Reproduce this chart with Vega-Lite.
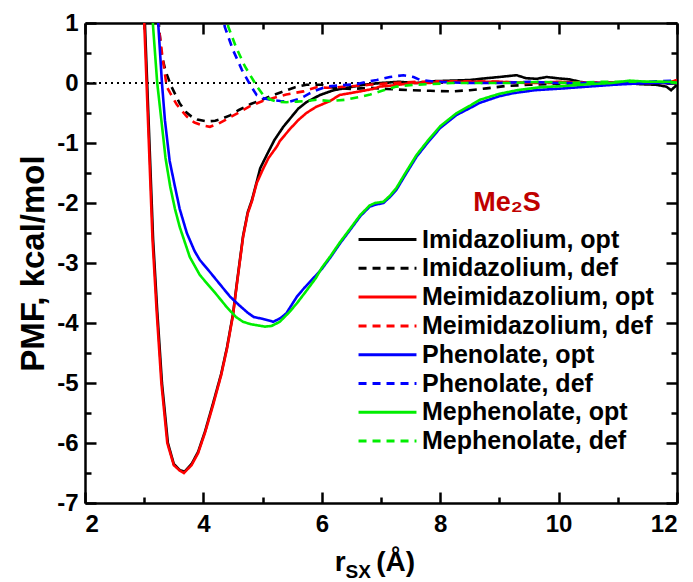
{
"$schema": "https://vega.github.io/schema/vega-lite/v6.json",
"width": 592, "height": 480,
"autosize": "none",
"padding": {"left": 85, "top": 23, "right": 16, "bottom": 79},
"config": {"font": "Liberation Sans", "view": {"stroke": null},
  "axis": {"domainColor": "black", "domainWidth": 2.5, "tickColor": "black", "tickWidth": 2.5, "grid": false,
    "labelFont": "Liberation Sans", "labelFontSize": 24, "labelFontWeight": "bold", "labelColor": "black",
    "titleFont": "Liberation Sans", "titleFontSize": 33, "titleFontWeight": "bold", "titleColor": "black"}},
"datasets": {"curves": [
{"s":"Imidazolium, opt","x":3.0,"y":1.3},{"s":"Imidazolium, opt","x":3.05,"y":0},{"s":"Imidazolium, opt","x":3.1,"y":-1.3},{"s":"Imidazolium, opt","x":3.15,"y":-2.6},{"s":"Imidazolium, opt","x":3.22,"y":-3.8},{"s":"Imidazolium, opt","x":3.3,"y":-5.0},{"s":"Imidazolium, opt","x":3.4,"y":-6.0},{"s":"Imidazolium, opt","x":3.5,"y":-6.35},{"s":"Imidazolium, opt","x":3.6,"y":-6.45},{"s":"Imidazolium, opt","x":3.68,"y":-6.48},{"s":"Imidazolium, opt","x":3.8,"y":-6.35},{"s":"Imidazolium, opt","x":3.91,"y":-6.15},{"s":"Imidazolium, opt","x":4.03,"y":-5.8},{"s":"Imidazolium, opt","x":4.16,"y":-5.35},{"s":"Imidazolium, opt","x":4.3,"y":-4.85},{"s":"Imidazolium, opt","x":4.4,"y":-4.4},{"s":"Imidazolium, opt","x":4.5,"y":-3.85},{"s":"Imidazolium, opt","x":4.57,"y":-3.3},{"s":"Imidazolium, opt","x":4.67,"y":-2.55},{"s":"Imidazolium, opt","x":4.75,"y":-2.15},{"s":"Imidazolium, opt","x":4.82,"y":-1.95},{"s":"Imidazolium, opt","x":4.9,"y":-1.65},{"s":"Imidazolium, opt","x":4.96,"y":-1.42},{"s":"Imidazolium, opt","x":5.07,"y":-1.2},{"s":"Imidazolium, opt","x":5.2,"y":-0.95},{"s":"Imidazolium, opt","x":5.35,"y":-0.73},{"s":"Imidazolium, opt","x":5.5,"y":-0.55},{"s":"Imidazolium, opt","x":5.6,"y":-0.43},{"s":"Imidazolium, opt","x":5.74,"y":-0.32},{"s":"Imidazolium, opt","x":5.97,"y":-0.2},{"s":"Imidazolium, opt","x":6.2,"y":-0.12},{"s":"Imidazolium, opt","x":6.42,"y":-0.08},{"s":"Imidazolium, opt","x":6.7,"y":-0.03},{"s":"Imidazolium, opt","x":7.0,"y":0.0},{"s":"Imidazolium, opt","x":7.3,"y":0.02},{"s":"Imidazolium, opt","x":7.6,"y":0.0},{"s":"Imidazolium, opt","x":7.9,"y":0.03},{"s":"Imidazolium, opt","x":8.2,"y":0.04},{"s":"Imidazolium, opt","x":8.5,"y":0.05},{"s":"Imidazolium, opt","x":8.78,"y":0.08},{"s":"Imidazolium, opt","x":9.0,"y":0.1},{"s":"Imidazolium, opt","x":9.29,"y":0.13},{"s":"Imidazolium, opt","x":9.45,"y":0.08},{"s":"Imidazolium, opt","x":9.63,"y":0.07},{"s":"Imidazolium, opt","x":9.8,"y":0.1},{"s":"Imidazolium, opt","x":9.97,"y":0.08},{"s":"Imidazolium, opt","x":10.19,"y":0.06},{"s":"Imidazolium, opt","x":10.36,"y":0.02},{"s":"Imidazolium, opt","x":10.53,"y":-0.01},{"s":"Imidazolium, opt","x":10.8,"y":0.0},{"s":"Imidazolium, opt","x":11.1,"y":0.0},{"s":"Imidazolium, opt","x":11.4,"y":-0.02},{"s":"Imidazolium, opt","x":11.65,"y":-0.03},{"s":"Imidazolium, opt","x":11.82,"y":-0.06},{"s":"Imidazolium, opt","x":11.9,"y":-0.12},{"s":"Imidazolium, opt","x":12.0,"y":-0.03},
{"s":"Imidazolium, def","x":3.22,"y":1.3},{"s":"Imidazolium, def","x":3.29,"y":0.49},{"s":"Imidazolium, def","x":3.36,"y":0.2},{"s":"Imidazolium, def","x":3.46,"y":-0.06},{"s":"Imidazolium, def","x":3.6,"y":-0.34},{"s":"Imidazolium, def","x":3.7,"y":-0.48},{"s":"Imidazolium, def","x":3.8,"y":-0.56},{"s":"Imidazolium, def","x":3.9,"y":-0.61},{"s":"Imidazolium, def","x":4.06,"y":-0.64},{"s":"Imidazolium, def","x":4.2,"y":-0.63},{"s":"Imidazolium, def","x":4.3,"y":-0.6},{"s":"Imidazolium, def","x":4.45,"y":-0.54},{"s":"Imidazolium, def","x":4.6,"y":-0.45},{"s":"Imidazolium, def","x":4.8,"y":-0.35},{"s":"Imidazolium, def","x":5.01,"y":-0.27},{"s":"Imidazolium, def","x":5.18,"y":-0.2},{"s":"Imidazolium, def","x":5.35,"y":-0.14},{"s":"Imidazolium, def","x":5.55,"y":-0.07},{"s":"Imidazolium, def","x":5.74,"y":-0.03},{"s":"Imidazolium, def","x":6.0,"y":-0.03},{"s":"Imidazolium, def","x":6.2,"y":-0.08},{"s":"Imidazolium, def","x":6.5,"y":-0.1},{"s":"Imidazolium, def","x":6.8,"y":-0.08},{"s":"Imidazolium, def","x":7.1,"y":-0.1},{"s":"Imidazolium, def","x":7.5,"y":-0.12},{"s":"Imidazolium, def","x":7.83,"y":-0.13},{"s":"Imidazolium, def","x":8.2,"y":-0.14},{"s":"Imidazolium, def","x":8.5,"y":-0.12},{"s":"Imidazolium, def","x":8.78,"y":-0.09},{"s":"Imidazolium, def","x":9.1,"y":-0.05},{"s":"Imidazolium, def","x":9.5,"y":-0.03},{"s":"Imidazolium, def","x":10.0,"y":-0.01},{"s":"Imidazolium, def","x":10.5,"y":0.0},{"s":"Imidazolium, def","x":11.0,"y":0.0},{"s":"Imidazolium, def","x":11.5,"y":0.0},{"s":"Imidazolium, def","x":12.0,"y":0.0},
{"s":"Meimidazolium, opt","x":2.99,"y":1.3},{"s":"Meimidazolium, opt","x":3.04,"y":0},{"s":"Meimidazolium, opt","x":3.09,"y":-1.3},{"s":"Meimidazolium, opt","x":3.14,"y":-2.6},{"s":"Meimidazolium, opt","x":3.21,"y":-3.8},{"s":"Meimidazolium, opt","x":3.29,"y":-5.0},{"s":"Meimidazolium, opt","x":3.39,"y":-6.0},{"s":"Meimidazolium, opt","x":3.5,"y":-6.37},{"s":"Meimidazolium, opt","x":3.6,"y":-6.46},{"s":"Meimidazolium, opt","x":3.67,"y":-6.5},{"s":"Meimidazolium, opt","x":3.8,"y":-6.37},{"s":"Meimidazolium, opt","x":3.91,"y":-6.17},{"s":"Meimidazolium, opt","x":4.03,"y":-5.82},{"s":"Meimidazolium, opt","x":4.16,"y":-5.38},{"s":"Meimidazolium, opt","x":4.3,"y":-4.87},{"s":"Meimidazolium, opt","x":4.4,"y":-4.42},{"s":"Meimidazolium, opt","x":4.5,"y":-3.87},{"s":"Meimidazolium, opt","x":4.57,"y":-3.32},{"s":"Meimidazolium, opt","x":4.67,"y":-2.57},{"s":"Meimidazolium, opt","x":4.75,"y":-2.17},{"s":"Meimidazolium, opt","x":4.82,"y":-1.97},{"s":"Meimidazolium, opt","x":4.9,"y":-1.67},{"s":"Meimidazolium, opt","x":5.0,"y":-1.45},{"s":"Meimidazolium, opt","x":5.1,"y":-1.25},{"s":"Meimidazolium, opt","x":5.24,"y":-1.06},{"s":"Meimidazolium, opt","x":5.29,"y":-0.97},{"s":"Meimidazolium, opt","x":5.45,"y":-0.78},{"s":"Meimidazolium, opt","x":5.6,"y":-0.62},{"s":"Meimidazolium, opt","x":5.74,"y":-0.5},{"s":"Meimidazolium, opt","x":5.9,"y":-0.4},{"s":"Meimidazolium, opt","x":6.14,"y":-0.3},{"s":"Meimidazolium, opt","x":6.3,"y":-0.2},{"s":"Meimidazolium, opt","x":6.53,"y":-0.16},{"s":"Meimidazolium, opt","x":6.7,"y":-0.13},{"s":"Meimidazolium, opt","x":6.86,"y":-0.1},{"s":"Meimidazolium, opt","x":6.98,"y":-0.06},{"s":"Meimidazolium, opt","x":7.2,"y":-0.04},{"s":"Meimidazolium, opt","x":7.54,"y":0.0},{"s":"Meimidazolium, opt","x":7.8,"y":0.0},{"s":"Meimidazolium, opt","x":8.1,"y":0.02},{"s":"Meimidazolium, opt","x":8.5,"y":0.02},{"s":"Meimidazolium, opt","x":9.0,"y":0.02},{"s":"Meimidazolium, opt","x":9.5,"y":0.0},{"s":"Meimidazolium, opt","x":10.0,"y":0.02},{"s":"Meimidazolium, opt","x":10.5,"y":0.0},{"s":"Meimidazolium, opt","x":11.0,"y":0.01},{"s":"Meimidazolium, opt","x":11.5,"y":0.0},{"s":"Meimidazolium, opt","x":11.9,"y":0.02},{"s":"Meimidazolium, opt","x":12.0,"y":0.05},
{"s":"Meimidazolium, def","x":3.2,"y":1.3},{"s":"Meimidazolium, def","x":3.25,"y":0.9},{"s":"Meimidazolium, def","x":3.3,"y":0.5},{"s":"Meimidazolium, def","x":3.38,"y":-0.06},{"s":"Meimidazolium, def","x":3.44,"y":-0.17},{"s":"Meimidazolium, def","x":3.55,"y":-0.36},{"s":"Meimidazolium, def","x":3.72,"y":-0.56},{"s":"Meimidazolium, def","x":3.85,"y":-0.66},{"s":"Meimidazolium, def","x":4.0,"y":-0.71},{"s":"Meimidazolium, def","x":4.11,"y":-0.73},{"s":"Meimidazolium, def","x":4.25,"y":-0.68},{"s":"Meimidazolium, def","x":4.4,"y":-0.6},{"s":"Meimidazolium, def","x":4.62,"y":-0.48},{"s":"Meimidazolium, def","x":4.8,"y":-0.38},{"s":"Meimidazolium, def","x":5.0,"y":-0.3},{"s":"Meimidazolium, def","x":5.18,"y":-0.25},{"s":"Meimidazolium, def","x":5.4,"y":-0.19},{"s":"Meimidazolium, def","x":5.69,"y":-0.14},{"s":"Meimidazolium, def","x":5.91,"y":-0.07},{"s":"Meimidazolium, def","x":6.1,"y":-0.08},{"s":"Meimidazolium, def","x":6.42,"y":-0.06},{"s":"Meimidazolium, def","x":6.8,"y":-0.03},{"s":"Meimidazolium, def","x":7.2,"y":0.0},{"s":"Meimidazolium, def","x":7.6,"y":0.02},{"s":"Meimidazolium, def","x":8.1,"y":0.03},{"s":"Meimidazolium, def","x":8.5,"y":0.03},{"s":"Meimidazolium, def","x":9.0,"y":0.02},{"s":"Meimidazolium, def","x":9.5,"y":0.0},{"s":"Meimidazolium, def","x":10.0,"y":0.0},{"s":"Meimidazolium, def","x":10.5,"y":0.01},{"s":"Meimidazolium, def","x":11.0,"y":0.0},{"s":"Meimidazolium, def","x":11.5,"y":0.0},{"s":"Meimidazolium, def","x":12.0,"y":0.0},
{"s":"Phenolate, opt","x":3.2,"y":1.5},{"s":"Phenolate, opt","x":3.24,"y":0.94},{"s":"Phenolate, opt","x":3.3,"y":0.0},{"s":"Phenolate, opt","x":3.35,"y":-0.62},{"s":"Phenolate, opt","x":3.43,"y":-1.3},{"s":"Phenolate, opt","x":3.52,"y":-1.73},{"s":"Phenolate, opt","x":3.6,"y":-2.1},{"s":"Phenolate, opt","x":3.72,"y":-2.5},{"s":"Phenolate, opt","x":3.85,"y":-2.8},{"s":"Phenolate, opt","x":3.94,"y":-2.95},{"s":"Phenolate, opt","x":4.11,"y":-3.15},{"s":"Phenolate, opt","x":4.3,"y":-3.38},{"s":"Phenolate, opt","x":4.45,"y":-3.56},{"s":"Phenolate, opt","x":4.6,"y":-3.7},{"s":"Phenolate, opt","x":4.75,"y":-3.83},{"s":"Phenolate, opt","x":4.85,"y":-3.9},{"s":"Phenolate, opt","x":5.0,"y":-3.93},{"s":"Phenolate, opt","x":5.18,"y":-3.98},{"s":"Phenolate, opt","x":5.3,"y":-3.92},{"s":"Phenolate, opt","x":5.4,"y":-3.84},{"s":"Phenolate, opt","x":5.58,"y":-3.56},{"s":"Phenolate, opt","x":5.7,"y":-3.42},{"s":"Phenolate, opt","x":5.86,"y":-3.25},{"s":"Phenolate, opt","x":6.0,"y":-3.1},{"s":"Phenolate, opt","x":6.15,"y":-2.9},{"s":"Phenolate, opt","x":6.31,"y":-2.67},{"s":"Phenolate, opt","x":6.5,"y":-2.42},{"s":"Phenolate, opt","x":6.65,"y":-2.22},{"s":"Phenolate, opt","x":6.81,"y":-2.06},{"s":"Phenolate, opt","x":6.9,"y":-2.03},{"s":"Phenolate, opt","x":7.04,"y":-2.0},{"s":"Phenolate, opt","x":7.15,"y":-1.9},{"s":"Phenolate, opt","x":7.26,"y":-1.78},{"s":"Phenolate, opt","x":7.4,"y":-1.55},{"s":"Phenolate, opt","x":7.6,"y":-1.23},{"s":"Phenolate, opt","x":7.8,"y":-0.98},{"s":"Phenolate, opt","x":8.0,"y":-0.75},{"s":"Phenolate, opt","x":8.28,"y":-0.53},{"s":"Phenolate, opt","x":8.5,"y":-0.42},{"s":"Phenolate, opt","x":8.67,"y":-0.33},{"s":"Phenolate, opt","x":9.0,"y":-0.22},{"s":"Phenolate, opt","x":9.23,"y":-0.17},{"s":"Phenolate, opt","x":9.6,"y":-0.12},{"s":"Phenolate, opt","x":10.08,"y":-0.09},{"s":"Phenolate, opt","x":10.5,"y":-0.06},{"s":"Phenolate, opt","x":10.92,"y":-0.03},{"s":"Phenolate, opt","x":11.3,"y":-0.01},{"s":"Phenolate, opt","x":11.6,"y":0.0},{"s":"Phenolate, opt","x":12.0,"y":0.0},
{"s":"Phenolate, def","x":4.33,"y":1.2},{"s":"Phenolate, def","x":4.36,"y":0.94},{"s":"Phenolate, def","x":4.5,"y":0.55},{"s":"Phenolate, def","x":4.65,"y":0.22},{"s":"Phenolate, def","x":4.79,"y":-0.03},{"s":"Phenolate, def","x":4.9,"y":-0.2},{"s":"Phenolate, def","x":5.0,"y":-0.25},{"s":"Phenolate, def","x":5.13,"y":-0.28},{"s":"Phenolate, def","x":5.3,"y":-0.3},{"s":"Phenolate, def","x":5.46,"y":-0.31},{"s":"Phenolate, def","x":5.6,"y":-0.27},{"s":"Phenolate, def","x":5.69,"y":-0.23},{"s":"Phenolate, def","x":5.8,"y":-0.17},{"s":"Phenolate, def","x":5.91,"y":-0.12},{"s":"Phenolate, def","x":6.08,"y":-0.06},{"s":"Phenolate, def","x":6.3,"y":-0.04},{"s":"Phenolate, def","x":6.59,"y":-0.02},{"s":"Phenolate, def","x":6.75,"y":0.02},{"s":"Phenolate, def","x":6.93,"y":0.05},{"s":"Phenolate, def","x":7.15,"y":0.1},{"s":"Phenolate, def","x":7.38,"y":0.13},{"s":"Phenolate, def","x":7.55,"y":0.1},{"s":"Phenolate, def","x":7.66,"y":0.05},{"s":"Phenolate, def","x":7.94,"y":0.02},{"s":"Phenolate, def","x":8.45,"y":0.0},{"s":"Phenolate, def","x":9.0,"y":0.0},{"s":"Phenolate, def","x":9.5,"y":0.02},{"s":"Phenolate, def","x":10.0,"y":0.0},{"s":"Phenolate, def","x":10.5,"y":0.0},{"s":"Phenolate, def","x":11.0,"y":0.0},{"s":"Phenolate, def","x":11.5,"y":0.02},{"s":"Phenolate, def","x":12.0,"y":0.04},
{"s":"Mephenolate, opt","x":3.12,"y":1.5},{"s":"Mephenolate, opt","x":3.15,"y":0.94},{"s":"Mephenolate, opt","x":3.22,"y":0.0},{"s":"Mephenolate, opt","x":3.29,"y":-0.62},{"s":"Mephenolate, opt","x":3.36,"y":-1.25},{"s":"Mephenolate, opt","x":3.44,"y":-1.73},{"s":"Mephenolate, opt","x":3.52,"y":-2.1},{"s":"Mephenolate, opt","x":3.6,"y":-2.4},{"s":"Mephenolate, opt","x":3.77,"y":-2.9},{"s":"Mephenolate, opt","x":3.94,"y":-3.2},{"s":"Mephenolate, opt","x":4.06,"y":-3.34},{"s":"Mephenolate, opt","x":4.2,"y":-3.5},{"s":"Mephenolate, opt","x":4.39,"y":-3.73},{"s":"Mephenolate, opt","x":4.55,"y":-3.9},{"s":"Mephenolate, opt","x":4.67,"y":-3.98},{"s":"Mephenolate, opt","x":4.8,"y":-4.02},{"s":"Mephenolate, opt","x":5.04,"y":-4.06},{"s":"Mephenolate, opt","x":5.15,"y":-4.05},{"s":"Mephenolate, opt","x":5.29,"y":-3.98},{"s":"Mephenolate, opt","x":5.45,"y":-3.82},{"s":"Mephenolate, opt","x":5.58,"y":-3.67},{"s":"Mephenolate, opt","x":5.75,"y":-3.45},{"s":"Mephenolate, opt","x":5.9,"y":-3.25},{"s":"Mephenolate, opt","x":6.0,"y":-3.08},{"s":"Mephenolate, opt","x":6.15,"y":-2.88},{"s":"Mephenolate, opt","x":6.31,"y":-2.65},{"s":"Mephenolate, opt","x":6.5,"y":-2.4},{"s":"Mephenolate, opt","x":6.65,"y":-2.2},{"s":"Mephenolate, opt","x":6.81,"y":-2.04},{"s":"Mephenolate, opt","x":6.9,"y":-2.0},{"s":"Mephenolate, opt","x":7.04,"y":-1.98},{"s":"Mephenolate, opt","x":7.15,"y":-1.88},{"s":"Mephenolate, opt","x":7.26,"y":-1.75},{"s":"Mephenolate, opt","x":7.4,"y":-1.52},{"s":"Mephenolate, opt","x":7.6,"y":-1.2},{"s":"Mephenolate, opt","x":7.8,"y":-0.95},{"s":"Mephenolate, opt","x":8.0,"y":-0.72},{"s":"Mephenolate, opt","x":8.28,"y":-0.5},{"s":"Mephenolate, opt","x":8.5,"y":-0.38},{"s":"Mephenolate, opt","x":8.67,"y":-0.28},{"s":"Mephenolate, opt","x":9.0,"y":-0.18},{"s":"Mephenolate, opt","x":9.3,"y":-0.12},{"s":"Mephenolate, opt","x":9.7,"y":-0.07},{"s":"Mephenolate, opt","x":10.1,"y":-0.05},{"s":"Mephenolate, opt","x":10.5,"y":-0.02},{"s":"Mephenolate, opt","x":10.9,"y":0.0},{"s":"Mephenolate, opt","x":11.2,"y":0.04},{"s":"Mephenolate, opt","x":11.5,"y":0.02},{"s":"Mephenolate, opt","x":11.9,"y":0.02},{"s":"Mephenolate, opt","x":12.0,"y":0.0},
{"s":"Mephenolate, def","x":4.38,"y":1.2},{"s":"Mephenolate, def","x":4.42,"y":0.94},{"s":"Mephenolate, def","x":4.55,"y":0.6},{"s":"Mephenolate, def","x":4.7,"y":0.28},{"s":"Mephenolate, def","x":4.84,"y":0.05},{"s":"Mephenolate, def","x":4.92,"y":-0.08},{"s":"Mephenolate, def","x":5.01,"y":-0.2},{"s":"Mephenolate, def","x":5.12,"y":-0.27},{"s":"Mephenolate, def","x":5.24,"y":-0.31},{"s":"Mephenolate, def","x":5.4,"y":-0.32},{"s":"Mephenolate, def","x":5.58,"y":-0.31},{"s":"Mephenolate, def","x":5.75,"y":-0.3},{"s":"Mephenolate, def","x":5.91,"y":-0.28},{"s":"Mephenolate, def","x":6.14,"y":-0.3},{"s":"Mephenolate, def","x":6.4,"y":-0.28},{"s":"Mephenolate, def","x":6.65,"y":-0.23},{"s":"Mephenolate, def","x":6.82,"y":-0.19},{"s":"Mephenolate, def","x":6.98,"y":-0.14},{"s":"Mephenolate, def","x":7.12,"y":-0.1},{"s":"Mephenolate, def","x":7.26,"y":-0.06},{"s":"Mephenolate, def","x":7.54,"y":-0.03},{"s":"Mephenolate, def","x":7.8,"y":-0.02},{"s":"Mephenolate, def","x":8.2,"y":0.0},{"s":"Mephenolate, def","x":8.7,"y":0.0},{"s":"Mephenolate, def","x":9.2,"y":0.0},{"s":"Mephenolate, def","x":9.7,"y":0.02},{"s":"Mephenolate, def","x":10.2,"y":0.0},{"s":"Mephenolate, def","x":10.7,"y":0.02},{"s":"Mephenolate, def","x":11.2,"y":0.02},{"s":"Mephenolate, def","x":11.7,"y":0.02},{"s":"Mephenolate, def","x":12.0,"y":0.0}
]},
"resolve": {"axis": {"x": "independent", "y": "independent"}},
"layer": [
 {"data": {"values": [{}]},
  "mark": {"type": "rule", "strokeDash": [2, 4], "strokeWidth": 2.2, "color": "black"},
  "encoding": {"y": {"datum": 0, "type": "quantitative", "scale": {"domain": [-7, 1], "nice": false, "zero": false},
     "axis": {"orient": "right", "labels": false, "title": null, "values": [-7,-6.5,-6,-5.5,-5,-4.5,-4,-3.5,-3,-2.5,-2,-1.5,-1,-0.5,0,0.5,1],
       "tickSize": {"condition": {"test": "datum.value % 1 === 0", "value": -11}, "value": -6}}}}},
 {"data": {"values": [{}]},
  "mark": {"type": "point", "opacity": 0},
  "encoding": {"x": {"datum": 2, "type": "quantitative", "scale": {"domain": [2, 12], "nice": false, "zero": false},
     "axis": {"orient": "top", "labels": false, "title": null, "values": [2,3,4,5,6,7,8,9,10,11,12],
       "tickSize": {"condition": {"test": "datum.value % 2 === 0", "value": -11}, "value": -6}}}}},
 {"data": {"name": "curves"},
  "mark": {"type": "line", "strokeWidth": 2.6, "clip": true},
  "encoding": {
   "x": {"field": "x", "type": "quantitative", "scale": {"domain": [2, 12], "nice": false, "zero": false},
     "axis": {"orient": "bottom", "title": null, "values": [2,3,4,5,6,7,8,9,10,11,12], "labelPadding": 20,
       "labelExpr": "datum.value % 2 === 0 ? '' + datum.value : ''",
       "tickSize": {"condition": {"test": "datum.value % 2 === 0", "value": -11}, "value": -6}}},
   "y": {"field": "y", "type": "quantitative", "scale": {"domain": [-7, 1], "nice": false, "zero": false},
     "axis": {"orient": "left", "title": "PMF, kcal/mol", "titlePadding": 6, "labelPadding": 18,
       "values": [-7,-6.5,-6,-5.5,-5,-4.5,-4,-3.5,-3,-2.5,-2,-1.5,-1,-0.5,0,0.5,1],
       "labelExpr": "datum.value % 1 === 0 ? '' + datum.value : ''",
       "tickSize": {"condition": {"test": "datum.value % 1 === 0", "value": -11}, "value": -6}}},
   "color": {"field": "s", "type": "nominal", "title": "Me₂S",
     "scale": {"domain": ["Imidazolium, opt","Imidazolium, def","Meimidazolium, opt","Meimidazolium, def","Phenolate, opt","Phenolate, def","Mephenolate, opt","Mephenolate, def"],
       "range": ["#000000","#000000","#ff0000","#ff0000","#0000ff","#0000ff","#00ee00","#00ee00"]},
     "legend": {"orient": "none", "legendX": 275, "legendY": 167, "symbolType": "M-3,0H3", "symbolSize": 373, "symbolStrokeWidth": 3, "symbolOffset": 15,
       "labelFont": "Liberation Sans", "labelFontSize": 25, "labelFontWeight": "bold", "labelColor": "black", "labelOffset": 22, "labelLimit": 400, "rowPadding": 2.8,
       "titleFont": "Liberation Sans", "titleFontSize": 27, "titleFontWeight": "bold", "titleColor": "#c00000", "titleAnchor": "middle", "titleAlign": "center", "titlePadding": 10}},
   "strokeDash": {"field": "s", "type": "nominal", "title": "Me₂S",
     "scale": {"domain": ["Imidazolium, opt","Imidazolium, def","Meimidazolium, opt","Meimidazolium, def","Phenolate, opt","Phenolate, def","Mephenolate, opt","Mephenolate, def"],
       "range": [[1,0],[8,6],[1,0],[8,6],[1,0],[8,6],[1,0],[8,6]]}}
  }},
 {"data": {"values": [{}]}, "mark": {"type": "text", "text": "r", "font": "Liberation Sans", "fontSize": 28, "fontWeight": "bold", "align": "left", "baseline": "alphabetic", "clip": false},
  "encoding": {"x": {"datum": 6.22, "type": "quantitative", "axis": null}, "y": {"datum": -8.13, "type": "quantitative", "axis": null}}},
 {"data": {"values": [{}]}, "mark": {"type": "text", "text": "SX", "font": "Liberation Sans", "fontSize": 19, "fontWeight": "bold", "align": "left", "baseline": "alphabetic", "clip": false},
  "encoding": {"x": {"datum": 6.4, "type": "quantitative", "axis": null}, "y": {"datum": -8.25, "type": "quantitative", "axis": null}}},
 {"data": {"values": [{}]}, "mark": {"type": "text", "text": "(Å)", "font": "Liberation Sans", "fontSize": 28, "fontWeight": "bold", "align": "left", "baseline": "alphabetic", "clip": false},
  "encoding": {"x": {"datum": 6.92, "type": "quantitative", "axis": null}, "y": {"datum": -8.13, "type": "quantitative", "axis": null}}}
]
}
